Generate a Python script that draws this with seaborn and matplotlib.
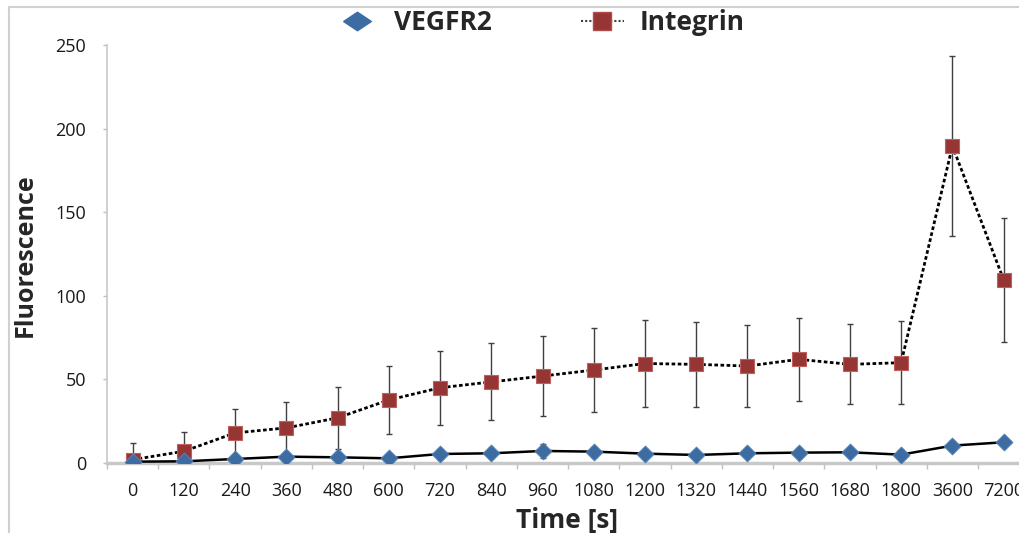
import numpy as np
import pandas as pd
import matplotlib
matplotlib.use("Agg")
import matplotlib.pyplot as plt
import seaborn as sns
from matplotlib.lines import Line2D
from matplotlib.patches import Rectangle
from matplotlib.ticker import FixedLocator

# data
times = ["0", "120", "240", "360", "480", "600", "720", "840", "960", "1080",
         "1200", "1320", "1440", "1560", "1680", "1800", "3600", "7200"]
vegfr2 = [0.8, 1.0, 2.4, 3.8, 3.4, 2.8, 5.4, 5.8, 7.2, 6.8,
          5.6, 4.8, 5.8, 6.2, 6.4, 5.0, 10.4, 12.4]
vegfr2_err = [1.5, 1.5, 2.0, 2.5, 2.5, 2.5, 3.0, 3.0, 4.0, 3.0,
              2.5, 2.5, 2.5, 2.5, 2.5, 3.0, 3.0, 2.5]
integrin = [2.0, 7.0, 18.0, 21.0, 27.0, 37.7, 45.0, 48.5, 52.0, 55.6,
            59.5, 59.0, 58.0, 62.0, 59.0, 60.0, 189.6, 109.6]
integrin_err = [10.0, 11.5, 14.5, 15.5, 18.5, 20.5, 22.0, 23.0, 24.0, 25.0,
                26.0, 25.5, 24.5, 25.0, 24.0, 25.0, 54.0, 37.0]

sns.set_style("white")
plt.rcParams["font.family"] = ["Open Sans", "DejaVu Sans"]

blue = "#3D6CA3"
red = "#963634"

df = pd.DataFrame({"pos": np.arange(len(times)), "time": times,
                   "VEGFR2": vegfr2, "Integrin": integrin})

fig = plt.figure(figsize=(10.19, 5.33), dpi=100)
ax = fig.add_axes([107 / 1019, 70 / 533, 912 / 1019, 418 / 533])

# error bars first so markers sit on top
ax.errorbar(df["pos"], df["Integrin"], yerr=integrin_err, fmt="none",
            ecolor="#404040", elinewidth=1, capsize=2.5, capthick=1, zorder=2)
ax.errorbar(df["pos"], df["VEGFR2"], yerr=vegfr2_err, fmt="none",
            ecolor="#404040", elinewidth=1, capsize=2.5, capthick=1, zorder=2)

sns.lineplot(data=df, x="pos", y="Integrin", ax=ax, color="black",
             linestyle=(0, (1.3, 0.9)), linewidth=2.0, zorder=3)
sns.lineplot(data=df, x="pos", y="VEGFR2", ax=ax, color="black",
             linewidth=1.8, zorder=3)
sns.scatterplot(data=df, x="pos", y="Integrin", ax=ax, marker="s", s=95,
                color=red, edgecolor="#C0605E", linewidth=0.8, zorder=4)
sns.scatterplot(data=df, x="pos", y="VEGFR2", ax=ax, marker="D", s=75,
                color=blue, edgecolor="#5A86BA", linewidth=0.6, zorder=4)

ax.set_xlim(-0.5, 17.30)
ax.set_ylim(0, 250)
ax.set_yticks([0, 50, 100, 150, 200, 250])
ax.set_xticks(df["pos"])
ax.set_xticklabels(times)
ax.xaxis.set_minor_locator(FixedLocator(np.arange(len(times)) - 0.5))

for s in ["top", "right"]:
    ax.spines[s].set_visible(False)
ax.spines["bottom"].set_color("#C8C8C8")
ax.spines["bottom"].set_linewidth(2.5)
ax.spines["left"].set_color("#C8C8C8")
ax.spines["left"].set_linewidth(1.2)

ax.tick_params(axis="y", which="major", length=3, width=1, color="#C0C0C0",
               pad=12, labelsize=13, labelcolor="#1a1a1a", left=True)
ax.tick_params(axis="x", which="major", length=0, pad=14, labelsize=13,
               labelcolor="#1a1a1a")
ax.tick_params(axis="x", which="minor", length=4, width=1, color="#C0C0C0",
               bottom=True)

ax.set_xlabel("")
ax.set_ylabel("")
fig.text(25 / 1019, 1 - 255 / 533, "Fluorescence", rotation=90, ha="center",
         va="center", fontsize=18, fontweight="bold")
fig.text(567 / 1019, 1 - 520 / 533, "Time [s]", ha="center", va="center",
         fontsize=19, fontweight="bold")

# legend
wide_diamond = [(-1.5, 0), (0, 1), (1.5, 0), (0, -1), (-1.5, 0)]
handles = [
    Line2D([], [], color="black", linewidth=0, marker=wide_diamond,
           markersize=20, markerfacecolor=blue, markeredgecolor=blue),
    Line2D([], [], color="#404040", linestyle=(0, (1, 1)), linewidth=1.5,
           marker="s", markersize=13, markerfacecolor=red,
           markeredgecolor="#B24B49"),
]
fig.legend(handles, ["VEGFR2", "Integrin"], loc="center",
           bbox_to_anchor=(540 / 1019, 1 - 23 / 533), ncol=2, frameon=False,
           prop={"size": 19, "weight": "bold"}, handlelength=1.6,
           handletextpad=0.6, columnspacing=3.4)

# chart area border
fig.patches.append(Rectangle((9 / 1019, -0.05), 1.2, 1 - 7 / 533 + 0.05,
                             transform=fig.transFigure, fill=False,
                             edgecolor="#D0D0D0", linewidth=1.5))

fig.savefig("out.png", dpi=100)
